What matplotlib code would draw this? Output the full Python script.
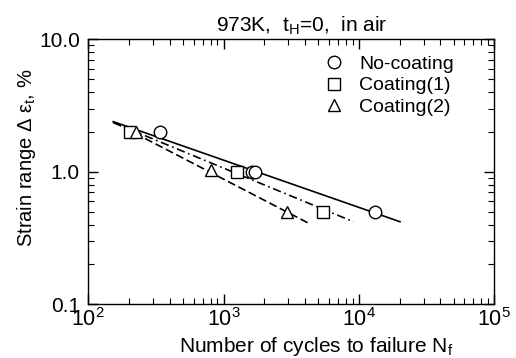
import matplotlib
matplotlib.use("Agg")
import matplotlib.pyplot as plt
from matplotlib.ticker import LogLocator, FixedLocator, FixedFormatter, NullFormatter

plt.rcParams['font.family'] = ['Liberation Sans', 'DejaVu Sans']
plt.rcParams['mathtext.fontset'] = 'custom'
plt.rcParams['mathtext.rm'] = 'Liberation Sans'
plt.rcParams['mathtext.it'] = 'Liberation Sans'

# data points
nc_N = [339, 1610, 1700, 13150]
nc_eps = [2.0, 1.0, 1.0, 0.5]
c1_N = [205, 1250, 5460]
c1_eps = [2.0, 1.0, 0.5]
c2_N = [225, 807, 2925]
c2_eps = [2.0, 1.03, 0.5]

# fitted lines (end points)
nc_fit_N = [153, 20100]
nc_fit_eps = [2.39, 0.42]
c1_fit_N = [152, 9100]
c1_fit_eps = [2.36, 0.42]
c2_fit_N = [155, 4230]
c2_fit_eps = [2.36, 0.41]

fig = plt.figure(figsize=(5.16, 3.58), dpi=100)
ax = fig.add_axes([0.1711, 0.15, 0.7868, 0.7402])

ax.plot(nc_fit_N, nc_fit_eps, color='black', lw=1.2, ls='-')
ax.plot(c1_fit_N, c1_fit_eps, color='black', lw=1.2, ls=(0, (5, 2.2, 1, 2.2)))
ax.plot(c2_fit_N, c2_fit_eps, color='black', lw=1.2, ls=(0, (4.8, 2.2)))

mk = dict(ls='none', mfc='white', mec='black', mew=1.0)
ax.plot(nc_N, nc_eps, marker='o', ms=9, label='No-coating', **mk)
ax.plot(c1_N, c1_eps, marker='s', ms=8.3, label='Coating(1)', **mk)
ax.plot(c2_N, c2_eps, marker='^', ms=9, label='Coating(2)', **mk)

ax.set_xscale('log')
ax.set_yscale('log')
ax.set_xlim(100, 1e5)
ax.set_ylim(0.1, 10)

ax.yaxis.set_major_locator(FixedLocator([0.1, 1, 10]))
ax.yaxis.set_major_formatter(FixedFormatter(['0.1', '1.0', '10.0']))
ax.yaxis.set_minor_locator(LogLocator(base=10, subs=range(2, 10)))
ax.yaxis.set_minor_formatter(NullFormatter())
ax.xaxis.set_minor_locator(LogLocator(base=10, subs=range(2, 10)))
ax.xaxis.set_minor_formatter(NullFormatter())

ax.tick_params(which='both', direction='in', top=True, right=True)
ax.tick_params(which='major', length=7, width=1)
ax.tick_params(which='minor', length=4, width=0.8)
ax.tick_params(axis='x', pad=3, labelsize=15.5)
ax.tick_params(axis='y', pad=6, labelsize=15)
for s in ax.spines.values():
    s.set_linewidth(1.0)

ax.set_xlabel('Number of cycles to failure N$_\\mathregular{f}$', fontsize=15, va='top')
ax.xaxis.set_label_coords(0.562, -0.115)
ax.set_ylabel('Strain range Δ ε$_\\mathregular{t}$, %', fontsize=14.5)
ax.yaxis.set_label_coords(-0.125, 0.552)
fig.text(302 / 516, 1 - 32 / 358, '973K,  t$_\\mathregular{H}$=0,  in air',
         fontsize=15, ha='center', va='baseline')

ax.legend(loc='upper left', bbox_to_anchor=(0.581, 0.94), frameon=False,
          fontsize=14, handlelength=1.0, handletextpad=0.8, labelspacing=0.2,
          borderaxespad=0, borderpad=0)

fig.savefig('out.png', dpi=100)
